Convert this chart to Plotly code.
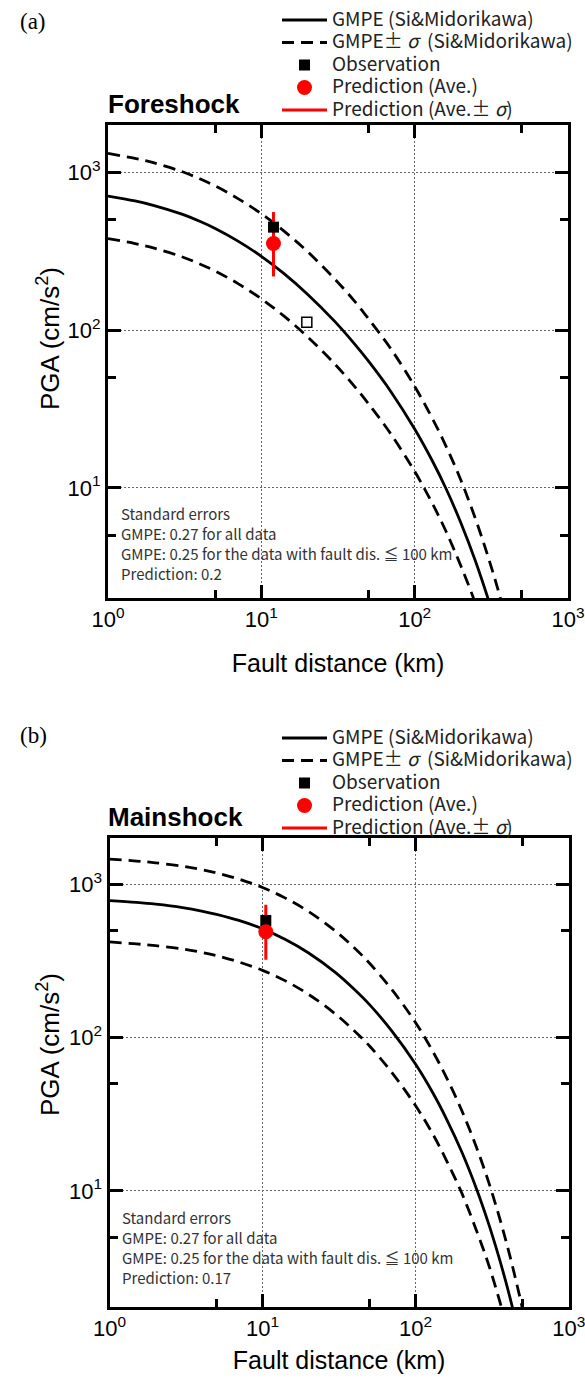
import plotly.graph_objects as go
import numpy as np

# ---------------- data ----------------
dist_a = [1, 1.5, 2, 3, 4, 5, 7, 10, 14, 20, 30, 40, 50, 70, 100, 130, 160, 200, 250, 300, 350, 400]
# Panel (a) Foreshock
fs_gmpe = [709, 660, 617, 546, 488, 441, 368, 294, 229, 169, 114, 83, 63.5, 40.7, 23.6, 14.9, 9.9, 6.0, 3.4, 2.0, 1.21, 0.75]
fs_up = [1320, 1229, 1149, 1017, 909, 821, 685, 547, 426, 315, 212, 155, 118, 76, 44, 27.7, 18.4, 11.2, 6.3, 3.7, 2.25, 1.39]
fs_lo = [381, 354, 331, 293, 262, 237, 198, 158, 123, 90.8, 61.2, 44.6, 34.1, 21.9, 12.7, 8.0, 5.3, 3.2, 1.83, 1.07, 0.65, 0.4]
fs_obs_x = [12.0]
fs_obs_y = [450]
fs_obs2_x = [19.8]
fs_obs2_y = [112]
fs_pred_x = [12.0]
fs_pred_y = [354]
fs_pred_lo = [219]
fs_pred_hi = [561]

# Panel (b) Mainshock
dist_b = [1, 1.5, 2, 3, 4, 5, 7, 10, 14, 20, 30, 40, 50, 70, 100, 130, 160, 200, 250, 300, 350, 400, 450, 500, 550]
ms_gmpe = [782, 760, 740, 703, 668, 636, 580, 511, 437, 356, 265, 205, 164, 110, 66.9, 43.3, 29.1, 18.0, 10.3, 6.1, 3.7, 2.29, 1.43, 0.91, 0.58]
ms_up = [1456, 1415, 1378, 1309, 1244, 1184, 1080, 951, 814, 663, 493, 382, 305, 205, 125, 80.6, 54.2, 33.5, 19.2, 11.4, 6.9, 4.26, 2.66, 1.69, 1.09]
ms_lo = [420, 408, 397, 378, 359, 342, 311, 274, 235, 191, 142, 110, 88, 59, 35.9, 23.3, 15.6, 9.7, 5.5, 3.3, 1.99, 1.23, 0.77, 0.49, 0.31]
ms_obs_x = [10.5]
ms_obs_y = [580]
ms_pred_x = [10.5]
ms_pred_y = [489]
ms_pred_lo = [321]
ms_pred_hi = [733]

x_tickvals = [1, 10, 100, 1000]
x_ticktext = ["10<sup>0</sup>", "10<sup>1</sup>", "10<sup>2</sup>", "10<sup>3</sup>"]
y_tickvals = [10, 100, 1000]
y_ticktext = ["10<sup>1</sup>", "10<sup>2</sup>", "10<sup>3</sup>"]
minor_vals = [5, 50, 500]

names = ["GMPE (Si&amp;Midorikawa)",
         "GMPE± <i>σ</i>  (Si&amp;Midorikawa)",
         "Observation",
         "Prediction (Ave.)",
         "Prediction (Ave.± <i>σ</i>)"]
notes_a = ["Standard errors", "GMPE: 0.27 for all data",
           "GMPE: 0.25 for the data with fault dis. ≦ 100 km", "Prediction: 0.2"]
notes_b = ["Standard errors", "GMPE: 0.27 for all data",
           "GMPE: 0.25 for the data with fault dis. ≦ 100 km", "Prediction: 0.17"]

# ---------------- styling ----------------
W, H = 585, 1379
SANS = "Liberation Sans, Arial"
JP = "Noto Sans CJK JP"
DASH = "12px,7px"
LW = 2.8


def leg(t):
    return '<span style="font-size:19px">' + t + '</span>'


fig = go.Figure()


def add_panel(xa, ya, legend, dist, g, up, lo, ox, oy, px, py, plo, phi, extra=None):
    fig.add_trace(go.Scatter(x=dist, y=g, mode="lines", line=dict(color="black", width=LW, shape="spline"),
                             name=leg(names[0]), xaxis=xa, yaxis=ya, legend=legend, legendrank=1))
    fig.add_trace(go.Scatter(x=dist, y=up, mode="lines",
                             line=dict(color="black", width=LW, dash=DASH, shape="spline"),
                             name=leg(names[1]), xaxis=xa, yaxis=ya, legend=legend,
                             legendgroup="sig" + legend, legendrank=2))
    fig.add_trace(go.Scatter(x=dist, y=lo, mode="lines",
                             line=dict(color="black", width=LW, dash=DASH, shape="spline"),
                             name=leg(names[1]), showlegend=False, xaxis=xa, yaxis=ya, legend=legend,
                             legendgroup="sig" + legend))
    fig.add_trace(go.Scatter(x=[px[0], px[0]], y=[plo[0], phi[0]], mode="lines",
                             line=dict(color="red", width=3), name=leg(names[4]),
                             xaxis=xa, yaxis=ya, legend=legend, legendrank=5))
    fig.add_trace(go.Scatter(x=ox, y=oy, mode="markers",
                             marker=dict(symbol="square", size=11, color="black"),
                             name=leg(names[2]), xaxis=xa, yaxis=ya, legend=legend, legendrank=3))
    if extra is not None:
        fig.add_trace(go.Scatter(x=extra[0], y=extra[1], mode="markers",
                                 marker=dict(symbol="square", size=10, color="white",
                                             line=dict(color="black", width=1.5)),
                                 showlegend=False, xaxis=xa, yaxis=ya))
    fig.add_trace(go.Scatter(x=px, y=py, mode="markers",
                             marker=dict(symbol="circle", size=15, color="red"),
                             name=leg(names[3]), xaxis=xa, yaxis=ya, legend=legend, legendrank=4))


add_panel("x", "y", "legend", dist_a, fs_gmpe, fs_up, fs_lo,
          fs_obs_x, fs_obs_y, fs_pred_x, fs_pred_y, fs_pred_lo, fs_pred_hi,
          extra=(fs_obs2_x, fs_obs2_y))
add_panel("x2", "y2", "legend2", dist_b, ms_gmpe, ms_up, ms_lo,
          ms_obs_x, ms_obs_y, ms_pred_x, ms_pred_y, ms_pred_lo, ms_pred_hi)

common = dict(type="log", showline=True, linewidth=3, linecolor="black", mirror="allticks",
              ticks="inside", ticklen=13, tickwidth=3, tickcolor="black", automargin=False,
              showgrid=True, gridcolor="#666", gridwidth=1, griddash="2px,2px", zeroline=False,
              ticklabeloverflow="allow",
              tickfont=dict(family=SANS, size=22, color="black"),
              minor=dict(tickmode="array", tickvals=minor_vals, ticks="inside", ticklen=8,
                         tickwidth=3, tickcolor="black", showgrid=False))

xa_dom = [108 / W, 568 / W]
xb_dom = [109.5 / W, 568.7 / W]
ya_dom = [1 - 598 / H, 1 - 125 / H]
yb_dom = [1 - 1307 / H, 1 - 838 / H]

title_font = dict(family=SANS, size=25, color="black")

fig.update_layout(
    width=W, height=H, margin=dict(l=0, r=0, t=0, b=0, autoexpand=False),
    paper_bgcolor="white", plot_bgcolor="white",
    xaxis=dict(common, domain=xa_dom, anchor="y", range=[0, 3], tickmode="array",
               tickvals=x_tickvals, ticktext=x_ticktext,
               title=dict(text="Fault distance (km)", font=title_font, standoff=24)),
    yaxis=dict(common, domain=ya_dom, anchor="x", range=[np.log10(2), np.log10(2000)],
               tickmode="array", tickvals=y_tickvals, ticktext=y_ticktext),
    xaxis2=dict(common, domain=xb_dom, anchor="y2", range=[0, 3], tickmode="array",
                tickvals=x_tickvals, ticktext=x_ticktext,
                title=dict(text="Fault distance (km)", font=title_font, standoff=12)),
    yaxis2=dict(common, domain=yb_dom, anchor="x2", range=[np.log10(1.75), np.log10(2000)],
                tickmode="array", tickvals=y_tickvals, ticktext=y_ticktext),
    legend=dict(x=277 / W, y=1 - 3.75 / H, xanchor="left", yanchor="top", bgcolor="rgba(0,0,0,0)",
                font=dict(family=JP, size=15, color="#222"), itemwidth=45, traceorder="normal"),
    legend2=dict(x=277 / W, y=1 - 721.75 / H, xanchor="left", yanchor="top", bgcolor="rgba(0,0,0,0)",
                 font=dict(family=JP, size=15, color="#222"), itemwidth=45, traceorder="normal"),
    showlegend=True,
)

ann = []
ann.append(dict(text="(a)", x=18 / W, y=1 - 21 / H, xref="paper", yref="paper", xanchor="left",
                yanchor="middle", showarrow=False, font=dict(family="Liberation Serif", size=23, color="black")))
ann.append(dict(text="(b)", x=18 / W, y=1 - 735 / H, xref="paper", yref="paper", xanchor="left",
                yanchor="middle", showarrow=False, font=dict(family="Liberation Serif", size=23, color="black")))
ann.append(dict(text="<b>Foreshock</b>", x=106 / W, y=1 - 104 / H, xref="paper", yref="paper",
                xanchor="left", yanchor="middle", showarrow=False,
                font=dict(family=SANS, size=26, color="black")))
ann.append(dict(text="<b>Mainshock</b>", x=106 / W, y=1 - 817 / H, xref="paper", yref="paper",
                xanchor="left", yanchor="middle", showarrow=False,
                font=dict(family=SANS, size=26, color="black")))
ann.append(dict(text="PGA (cm/s<sup>2</sup>)", x=48 / W, y=1 - 339 / H, xref="paper", yref="paper",
                xanchor="center", yanchor="middle", textangle=-90, showarrow=False,
                font=dict(family=SANS, size=26, color="black")))
ann.append(dict(text="PGA (cm/s<sup>2</sup>)", x=48 / W, y=1 - 1045 / H, xref="paper", yref="paper",
                xanchor="center", yanchor="middle", textangle=-90, showarrow=False,
                font=dict(family=SANS, size=26, color="black")))
for i, t in enumerate(notes_a):
    ann.append(dict(text=t, x=119 / W, y=1 - (513 + 20 * i) / H, xref="paper", yref="paper",
                    xanchor="left", yanchor="middle", showarrow=False,
                    font=dict(family=JP, size=15, color="#333")))
for i, t in enumerate(notes_b):
    ann.append(dict(text=t, x=120 / W, y=1 - (1217 + 20 * i) / H, xref="paper", yref="paper",
                    xanchor="left", yanchor="middle", showarrow=False,
                    font=dict(family=JP, size=15, color="#333")))
fig.update_layout(annotations=ann)

fig.write_html("out.html")
